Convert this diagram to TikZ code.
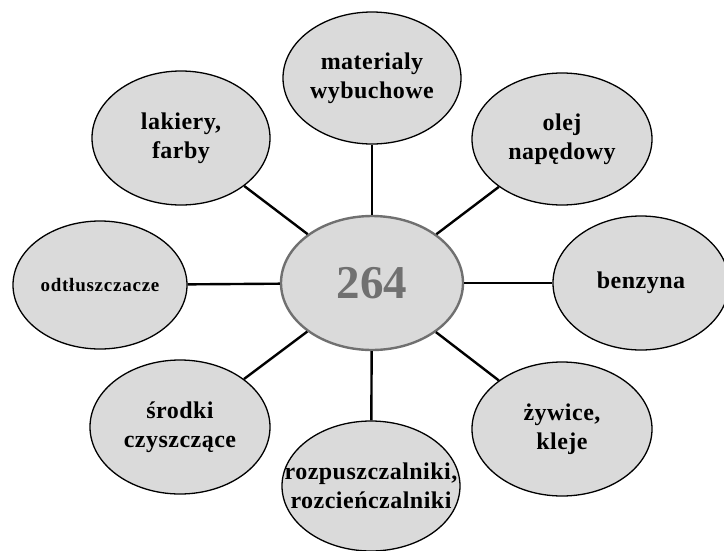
\documentclass[tikz,border=0pt]{standalone}
\usepackage{fontspec}
\setmainfont{Liberation Serif}
\usetikzlibrary{shapes.geometric}
\definecolor{fillgray}{RGB}{218,218,218}
\definecolor{midgray}{RGB}{112,112,112}
\tikzset{
  bubble/.style={ellipse, draw=black, line width=1.3pt, fill=fillgray, inner xsep=-32pt, inner ysep=0pt,
    align=center, font=\fontsize{24}{29}\selectfont\bfseries\addfontfeature{LetterSpace=2}},
  hub/.style={ellipse, draw=midgray, line width=2.4pt, fill=fillgray, inner sep=0pt,
    text=midgray, font=\fontsize{47}{50}\selectfont\bfseries},
  link/.style={draw=black, line width=2.4pt}
}
\begin{document}
\begin{tikzpicture}[x=1pt,y=-1pt]
\useasboundingbox (0,0) rectangle (724,550);
\node[hub, minimum width=182pt, minimum height=134pt] (c) at (372,283) {264};
\node[bubble, minimum width=178pt, minimum height=132pt] (top) at (372,78) {materialy\\wybuchowe};
\node[bubble, minimum width=178pt, minimum height=134pt] (lak) at (181,138) {lakiery,\\farby};
\node[bubble, minimum width=180pt, minimum height=132pt] (olej) at (562,139) {olej\\napędowy};
\node[bubble, minimum width=174pt, minimum height=128pt, font=\fontsize{19}{22}\selectfont\bfseries\addfontfeature{LetterSpace=4}] (odt) at (100,285) {odtłuszczacze};
\node[bubble, minimum width=176pt, minimum height=134pt] (benz) at (641,283) {benzyna};
\node[bubble, minimum width=180pt, minimum height=134pt] (srod) at (180,427) {środki\\czyszczące};
\node[bubble, minimum width=180pt, minimum height=134pt] (zyw) at (562,429) {żywice,\\kleje};
\node[bubble, minimum width=178pt, minimum height=130pt] (rozp) at (371,486) {rozpuszczalniki,\\rozcieńczalniki};
\foreach \n in {top,lak,olej,odt,benz,srod,zyw,rozp}{
  \draw[link] (c) -- (\n);
}
\end{tikzpicture}
\end{document}
